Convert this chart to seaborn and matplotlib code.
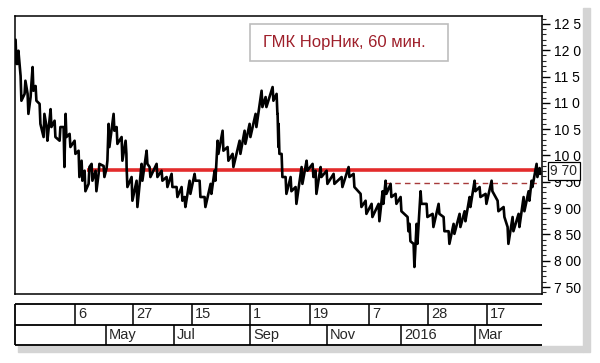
import numpy as np
import pandas as pd
import matplotlib
matplotlib.use("Agg")
import matplotlib.pyplot as plt
import matplotlib.transforms as mtransforms
from matplotlib.patches import Rectangle
import seaborn as sns

# hourly bars (compressed time axis), each swing read as (first, second) price, thousands of rub
bar = [1, 3, 6, 10, 13, 16, 18, 21, 25, 29,
       32, 36, 40, 45, 49, 51, 55, 60, 64, 67,
       70, 74, 77, 81, 84, 89, 92, 94, 99, 102,
       107, 111, 112, 117, 122, 127, 132, 135, 142, 147,
       152, 157, 162, 167, 170, 175, 180, 185, 190, 196,
       200, 203, 208, 213, 218, 225, 230, 235, 241, 247,
       251, 258, 262, 263, 264, 267, 271, 276, 281, 287,
       292, 298, 301, 306, 312, 319, 327, 334, 339, 346,
       351, 357, 364, 368, 371, 376, 381, 386, 393, 395,
       399, 402, 406, 412, 418, 424, 429, 434, 439, 445,
       450, 455, 460, 465, 471, 477, 483, 489, 493, 498,
       504, 509, 514, 517, 522, 525]
price_a = [12.20, 11.74, 11.51, 11.17, 11.17, 11.11, 11.68, 11.32, 10.98, 10.35,
           10.54, 10.88, 10.66, 10.28, 10.54, 10.79, 10.41, 10.28, 10.09, 9.90,
           9.71, 9.46, 9.84, 9.71, 9.65, 9.80, 9.76, 10.60, 10.79, 10.54,
           10.35, 10.28, 9.78, 9.59, 9.52, 9.84, 10.09, 9.78, 9.84, 9.71,
           9.59, 9.65, 9.40, 9.40, 9.21, 9.52, 9.65, 9.52, 9.21, 9.46,
           9.71, 10.28, 10.47, 10.16, 10.03, 10.28, 10.47, 10.60, 10.79, 11.23,
           11.11, 11.30, 11.17, 10.79, 10.60, 10.03, 9.59, 9.59, 9.40, 9.78,
           9.90, 9.84, 9.71, 9.78, 9.71, 9.65, 9.59, 9.78, 9.65, 9.27,
           9.14, 9.08, 9.08, 9.32, 9.52, 9.46, 9.27, 9.21, 8.83, 8.70,
           8.32, 8.70, 9.32, 9.08, 8.89, 9.08, 8.83, 8.56, 8.70, 8.89,
           8.94, 9.21, 9.52, 9.40, 9.27, 9.52, 9.14, 9.02, 8.64, 8.83,
           8.89, 9.21, 9.32, 9.52, 9.84, 9.76]
price_b = [11.74, 11.99, 11.04, 11.42, 10.79, 11.36, 11.23, 11.04, 10.60, 10.79,
           10.28, 10.54, 10.35, 10.54, 9.78, 10.35, 10.16, 10.03, 9.59, 9.52,
           9.32, 9.78, 9.52, 9.32, 9.84, 9.59, 9.90, 10.16, 10.47, 10.22,
           9.90, 10.03, 9.40, 9.14, 9.02, 9.52, 9.84, 9.59, 9.59, 9.52,
           9.40, 9.40, 9.21, 9.14, 9.02, 9.27, 9.52, 9.21, 9.02, 9.27,
           9.52, 10.03, 10.09, 9.90, 9.78, 10.03, 10.22, 10.35, 10.54, 10.92,
           10.92, 11.04, 10.79, 10.16, 10.03, 9.59, 9.27, 9.32, 9.08, 9.46,
           9.71, 9.59, 9.27, 9.59, 9.46, 9.46, 9.40, 9.59, 9.40, 9.02,
           8.89, 8.83, 8.75, 9.08, 9.27, 9.21, 9.08, 8.94, 8.56, 8.37,
           7.88, 8.32, 9.08, 8.83, 8.64, 8.89, 8.56, 8.32, 8.51, 8.64,
           8.75, 9.02, 9.32, 9.21, 9.08, 9.32, 8.94, 8.83, 8.32, 8.56,
           8.64, 8.94, 9.14, 9.40, 9.59, 9.65]

# support / resistance levels
level_main = 9.73
level_main_from = 72
level_dash = 9.48
level_dash_from = 370
level_to = 525

# right price axis
ytick_vals = [12.5, 12.0, 11.5, 11.0, 10.5, 10.0, 9.5, 9.0, 8.5, 8.0, 7.5]
ytick_labels = ["12 5", "12 0", "11 5", "11 0", "10 5", "10 0",
                "9 50", "9 00", "8 50", "8 00", "7 50"]
last_label = "9 70"

# date scale (two rows)
day_bars = [60, 118, 177, 235, 295, 354, 413, 472]
day_labels = ["6", "27", "15", "1", "19", "7", "28", "17"]
month_bars = [91, 159, 235, 312, 386, 460]
month_labels = ["May", "Jul", "Sep", "Nov", "2016", "Mar"]

title = "ГМК НорНик, 60 мин."

t = np.column_stack([np.array(bar) - 0.4, np.array(bar) + 0.4]).ravel()
p = np.column_stack([price_a, price_b]).ravel()
df = pd.DataFrame({"t": t, "price": p})

sns.set_style("white")
plt.rcParams["font.family"] = ["Liberation Sans", "DejaVu Sans"]

fig = plt.figure(figsize=(6, 3.63), dpi=100)
fig.patch.set_facecolor("white")

# window shadow
fig.patches.append(Rectangle((583 / 600, 1 - 352 / 363), 7 / 600, 344 / 363,
                             transform=fig.transFigure, color="#d4d4d4", zorder=-2))
fig.patches.append(Rectangle((18 / 600, 1 - 352 / 363), 565 / 600, 6 / 363,
                             transform=fig.transFigure, color="#d4d4d4", zorder=-2))

ax = fig.add_axes([15 / 600, 1 - 294 / 363, 527 / 600, 278 / 363])
sns.lineplot(data=df, x="t", y="price", sort=False, estimator=None,
             color="black", lw=1.9, ax=ax)
ax.hlines(level_main, level_main_from, level_to, color="#e32b2b", lw=2.6, zorder=1)
ax.hlines(level_dash, level_dash_from, level_to, color="#a83a3a", lw=1.0,
          linestyles=(0, (4, 3)), zorder=1)

ax.set_xlim(0, 527)
ax.set_ylim(7.367, 12.65)
ax.set_xlabel("")
ax.set_ylabel("")
ax.set_xticks([])
ax.yaxis.tick_right()
ax.set_yticks(ytick_vals, ytick_labels)
ax.set_yticks(np.arange(7.4, 12.65, 0.1), minor=True)
ax.tick_params(axis="y", which="major", length=6, width=1, direction="out",
               pad=3, labelsize=10, colors="black", right=True, left=False)
ax.tick_params(axis="y", which="minor", length=3, width=0.8, direction="out",
               right=True, left=False)
for s in ax.spines.values():
    s.set_color("black")
    s.set_linewidth(1.1)

tr = mtransforms.blended_transform_factory(ax.transAxes, ax.transData)
ax.text(1.016, level_main - 0.03, last_label, transform=tr, ha="left", va="center",
        fontsize=10, bbox=dict(boxstyle="square,pad=0.15", fc="white", ec="black", lw=0.9),
        zorder=5, clip_on=False)

ax.add_patch(Rectangle((0.446, 0.838), 0.3757, 0.133, transform=ax.transAxes,
                       fc="white", ec="#bdbdbd", lw=1.2, zorder=4))
ax.text(0.4706, 0.906, title, transform=ax.transAxes, ha="left", va="center",
        fontsize=12, color="#9e1f2a", zorder=5)

# date scale
ax2 = fig.add_axes([15 / 600, 1 - 345 / 363, 527 / 600, 41 / 363])
ax2.set_xlim(0, 527)
ax2.set_ylim(0, 2)
ax2.axis("off")
for yy in (0, 1, 2):
    ax2.hlines(yy, 0, 527, color="black", lw=1.3, clip_on=False)
ax2.vlines(0, 0, 2, color="black", lw=1.3, clip_on=False)
for xb, lab in zip(day_bars, day_labels):
    ax2.vlines(xb, 1, 2, color="black", lw=1.1)
    ax2.text(xb + 3, 1.5, lab, ha="left", va="center", fontsize=10.5)
for xb, lab in zip(month_bars, month_labels):
    ax2.vlines(xb, 0, 1, color="black", lw=1.1)
    ax2.text(xb + 3, 0.5, lab, ha="left", va="center", fontsize=10.5)

fig.savefig("out.png", dpi=100, facecolor=fig.get_facecolor())
